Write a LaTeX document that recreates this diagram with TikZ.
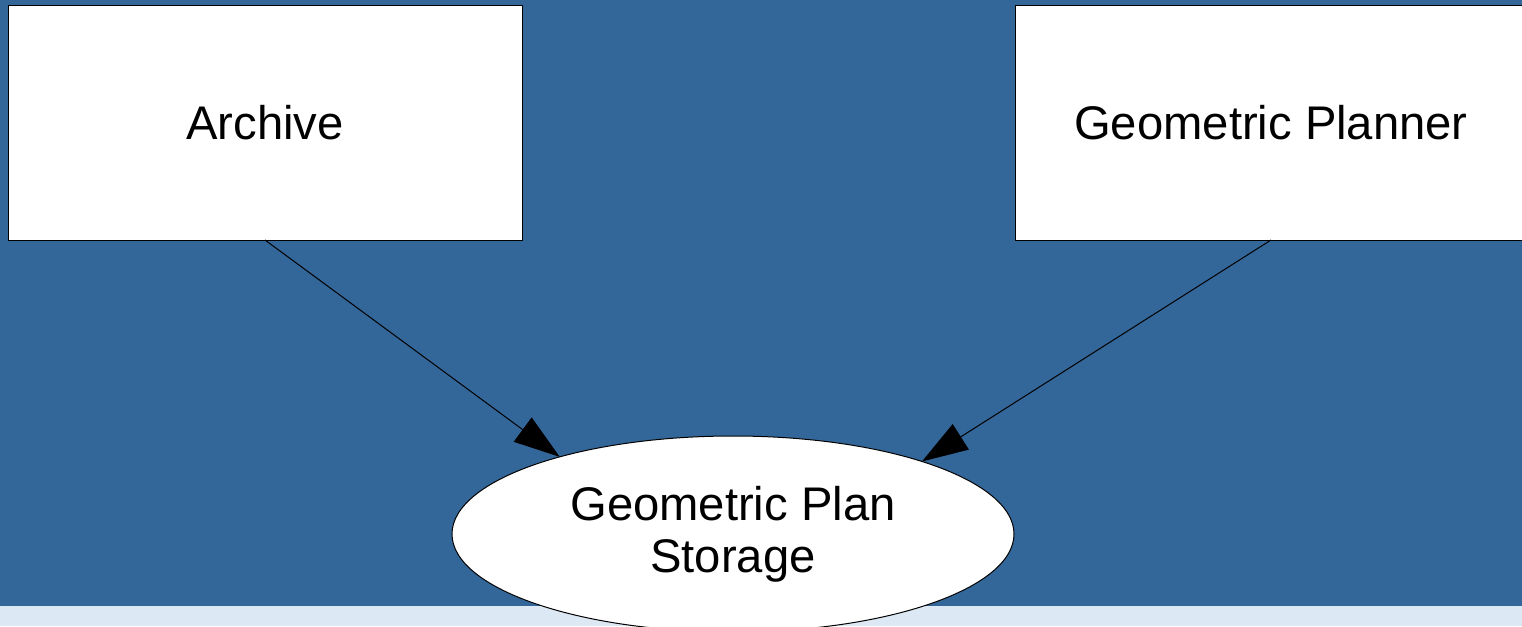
\documentclass[tikz,border=0pt]{standalone}
\usepackage{fontspec}
\setmainfont{Liberation Sans}
\usetikzlibrary{shapes.geometric,arrows.meta}
\definecolor{bgblue}{RGB}{51,102,153}
\definecolor{striplight}{RGB}{220,232,243}
\tikzset{
  box/.style={draw=black, fill=white, line width=1pt, rectangle, inner sep=0pt, outer sep=0pt, minimum height=234pt, font=\fontsize{47.2}{53}\selectfont},
  ell/.style={draw=black, fill=white, line width=1pt, ellipse, inner sep=0pt, outer sep=0pt, minimum width=562pt, minimum height=196pt, align=center, font=\fontsize{47.2}{52}\selectfont},
  arr/.style={draw=black, line width=1pt, -{Triangle[length=46pt,width=30pt]}}
}
\begin{document}
\begin{tikzpicture}[x=1pt,y=-1pt]
\useasboundingbox (0,0) rectangle (1522,626);
\clip (0,0) rectangle (1522,626);
\fill[bgblue] (0,0) rectangle (1522,606);
\fill[striplight] (0,606) rectangle (1522,626);
\node[box, minimum width=514pt] (a) at (265,123) {Archive};
\node[box, minimum width=512pt] (g) at (1271,123) {Geometric Planner};
\node[ell] (s) at (733,534) {Geometric Plan\\Storage};
\draw[arr] (a.south) -- (s.156.8);
\draw[arr] (g.south) -- (s.21.1);
\end{tikzpicture}
\end{document}
